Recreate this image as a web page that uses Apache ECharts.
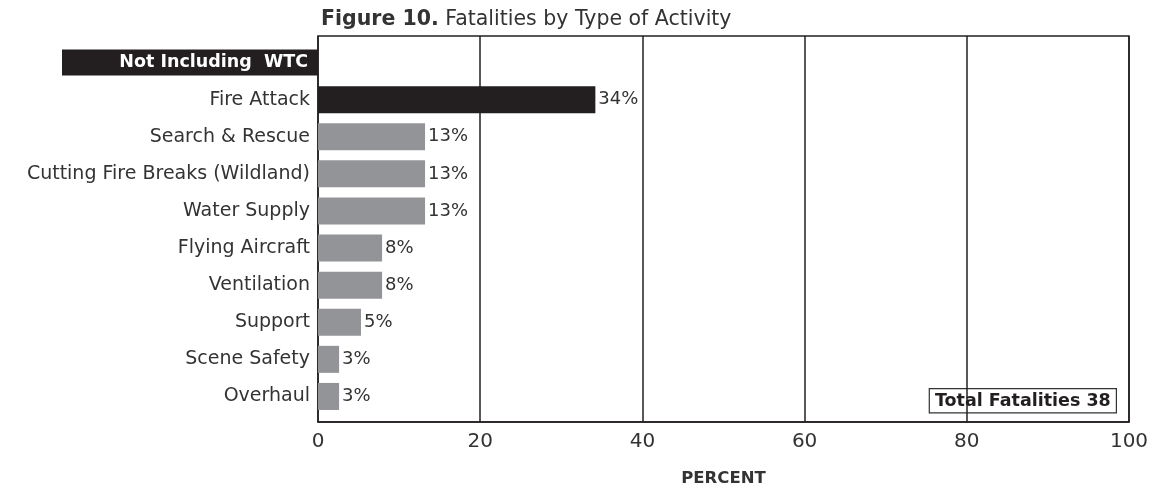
<!DOCTYPE html>
<html>
<head>
<meta charset="utf-8">
<script src="https://cdn.jsdelivr.net/npm/echarts@6/dist/echarts.min.js"></script>
<style>html,body{margin:0;padding:0;background:#fff;}#c{width:1154px;height:493px;}</style>
</head>
<body>
<div id="c"></div>
<script>
var headerLabel = 'Not Including  WTC';
var categories = [headerLabel, 'Fire Attack', 'Search & Rescue', 'Cutting Fire Breaks (Wildland)', 'Water Supply', 'Flying Aircraft', 'Ventilation', 'Support', 'Scene Safety', 'Overhaul'];
var values = [null, 34.2, 13.2, 13.2, 13.2, 7.9, 7.9, 5.3, 2.6, 2.6];
var xTicks = [0, 20, 40, 60, 80, 100];
var totalText = 'Total Fatalities 38';

var FONT = 'DejaVu Sans';
var chart = echarts.init(document.getElementById('c'), null, {renderer: 'canvas'});
var data = values.map(function (v, i) {
  return {value: v, itemStyle: {color: i === 1 ? '#231f20' : '#929497'}};
});
chart.setOption({
  animation: false,
  textStyle: {fontFamily: FONT},
  title: {
    text: '{b|Figure 10.} Fatalities by Type of Activity',
    left: 316, top: 4,
    textStyle: {fontFamily: FONT, fontSize: 20.5, fontWeight: 'normal', color: '#333',
      rich: {b: {fontFamily: FONT, fontSize: 20.5, fontWeight: 'bold', color: '#333'}}}
  },
  grid: [
    {left: 318, right: 25, top: 36, bottom: 71, show: true, borderColor: '#231f20', borderWidth: 1.5, containLabel: false},
    {left: 318, right: 25, top: 44, bottom: 78, containLabel: false}
  ],
  xAxis: [
    {gridIndex: 0, type: 'value', min: xTicks[0], max: xTicks[xTicks.length - 1], interval: 20,
     axisLine: {show: true, lineStyle: {color: '#231f20', width: 1.5}},
     axisTick: {show: false},
     splitLine: {show: true, lineStyle: {color: '#231f20', width: 1.5}},
     axisLabel: {fontFamily: FONT, fontSize: 20, color: '#333', margin: 10},
     name: 'PERCENT', nameLocation: 'middle', nameGap: 48,
     nameTextStyle: {fontFamily: FONT, fontSize: 16.5, fontWeight: 'bold', color: '#333'}},
    {gridIndex: 1, type: 'value', min: 0, max: 100, show: false}
  ],
  yAxis: [
    {gridIndex: 0, type: 'value', show: false},
    {gridIndex: 1, type: 'category', data: categories, inverse: true,
     axisLine: {show: false}, axisTick: {show: false}, splitLine: {show: false},
     axisLabel: {
       margin: 0, fontFamily: FONT, fontSize: 19, color: '#333',
       formatter: function (v, i) {
         return i === 0 ? '{h|' + v + '}' : '{n|' + v + '}';
       },
       rich: {
         h: {backgroundColor: '#231f20', color: '#fff', fontFamily: FONT, fontWeight: 'bold', fontSize: 17.5,
             width: 236, align: 'right', padding: [4, 10, 4, 10], lineHeight: 19},
         n: {fontFamily: FONT, fontSize: 19, color: '#333', padding: [0, 8, 0, 0]}
       }
     }}
  ],
  series: [{
    type: 'bar', xAxisIndex: 1, yAxisIndex: 1, data: data, barWidth: 27,
    label: {show: true, position: 'right', distance: 3, fontFamily: FONT, fontSize: 18, color: '#333',
      formatter: function (p) { return p.value == null ? '' : Math.round(p.value) + '%'; }}
  }],
  graphic: [{
    type: 'text', right: 37, top: 388,
    style: {text: totalText, fontFamily: FONT, fontSize: 17.5, fontWeight: 'bold', fill: '#231f20',
      backgroundColor: '#fff', borderColor: '#333', borderWidth: 1.2, padding: [3, 5, 2, 5]}
  }]
});
</script>
</body>
</html>
